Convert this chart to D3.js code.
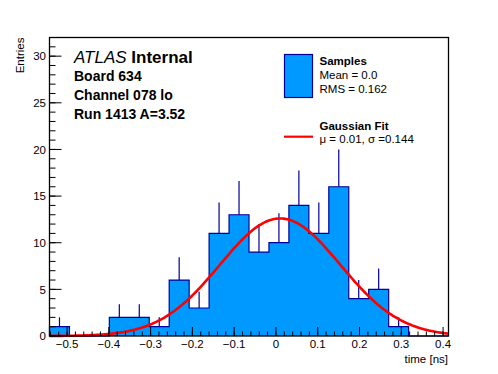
<!DOCTYPE html>
<html>
<head>
<meta charset="utf-8">
<script src="https://cdn.jsdelivr.net/npm/d3@7/dist/d3.min.js"></script>
<style>
  html, body { margin: 0; padding: 0; background: #fff; }
  svg { display: block; font-family: "Liberation Sans", Arial, Helvetica, sans-serif; }
</style>
</head>
<body>
<svg id="chart" width="498" height="374"></svg>
<script>
// ---- data ----
const xDomain = [-0.542, 0.413];          // histogram range (ns)
const counts = [1, 0, 0, 2, 2, 1, 6, 3, 11, 13, 9, 10, 14, 11, 16, 4, 5, 1, 0, 0];
const yDomain = [0, 32];
const xTickValues = [-0.5, -0.4, -0.3, -0.2, -0.1, 0, 0.1, 0.2, 0.3, 0.4];
const yTickValues = [0, 5, 10, 15, 20, 25, 30];
const fitAmplitude = 12.6;
const fitMean = 0.01;
const fitSigma = 0.144;
const atlasLines = ["Board 634", "Channel 078 lo", "Run 1413 A=3.52"];
const legendSamples = ["Samples", "Mean = 0.0", "RMS = 0.162"];
const legendFit = ["Gaussian Fit", "\u03BC = 0.01, \u03C3 =0.144"];

// ---- layout ----
const L = 49.5, R = 448.5, T = 37.5, B = 336;
const fillColor = "#0099ff", lineColor = "#000099", fitColor = "#ff0000";

const svg = d3.select("#chart");
svg.append("rect").attr("width", 498).attr("height", 374).attr("fill", "#fff");

const x = d3.scaleLinear().domain(xDomain).range([L, R]);
const y = d3.scaleLinear().domain(yDomain).range([B, T]);

const nb = counts.length;
const bw = (xDomain[1] - xDomain[0]) / nb;
const bins = counts.map((c, i) => ({ x0: xDomain[0] + i * bw, x1: xDomain[0] + (i + 1) * bw, c }));

// bars (fill) as one filled step area to avoid seams
let pts = [[x(bins[0].x0), y(0)]];
bins.forEach(d => { pts.push([x(d.x0), y(d.c)]); pts.push([x(d.x1), y(d.c)]); });
pts.push([x(bins[nb - 1].x1), y(0)]);
svg.append("path").attr("d", d3.line()(pts) + "Z").attr("fill", fillColor).attr("stroke", "none");

// step outline
svg.append("path").attr("d", d3.line()(pts)).attr("fill", "none")
  .attr("stroke", lineColor).attr("stroke-width", 1.2);

// error bars (upper part visible)
svg.append("g").selectAll("line").data(bins.filter(d => d.c > 0)).join("line")
  .attr("x1", d => x((d.x0 + d.x1) / 2)).attr("x2", d => x((d.x0 + d.x1) / 2))
  .attr("y1", d => y(d.c)).attr("y2", d => y(d.c + Math.sqrt(d.c)))
  .attr("stroke", lineColor).attr("stroke-width", 1.2);

// gaussian fit
const gx = d3.range(0, 301).map(i => xDomain[0] + (xDomain[1] - xDomain[0]) * i / 300);
const gauss = v => fitAmplitude * Math.exp(-0.5 * Math.pow((v - fitMean) / fitSigma, 2));
svg.append("path")
  .attr("d", d3.line().x(v => x(v)).y(v => y(gauss(v)))(gx))
  .attr("fill", "none").attr("stroke", fitColor).attr("stroke-width", 2.6);

// frame
svg.append("rect").attr("x", L).attr("y", T).attr("width", R - L).attr("height", B - T)
  .attr("fill", "none").attr("stroke", "#000").attr("stroke-width", 1.3);

// x ticks (inside)
const xMinor = d3.range(-27, 21).map(i => i * 0.02).filter(v => v >= xDomain[0] && v <= xDomain[1]);
svg.append("g").selectAll("line").data(xMinor).join("line")
  .attr("x1", d => x(d)).attr("x2", d => x(d)).attr("y1", B).attr("y2", B - 4.5)
  .attr("stroke", "#000").attr("stroke-width", 1);
svg.append("g").selectAll("line").data(xTickValues).join("line")
  .attr("x1", d => x(d)).attr("x2", d => x(d)).attr("y1", B).attr("y2", B - 9)
  .attr("stroke", "#000").attr("stroke-width", 1);
svg.append("g").selectAll("text").data(xTickValues).join("text")
  .attr("x", d => x(d)).attr("y", 348).attr("text-anchor", "middle")
  .attr("font-size", 11.5)
  .text(d => d === 0 ? "0" : (d < 0 ? "\u2212" : "") + Math.abs(d).toFixed(1));

// y ticks (inside)
const yMinor = d3.range(0, 33);
svg.append("g").selectAll("line").data(yMinor).join("line")
  .attr("x1", L).attr("x2", L + 6).attr("y1", d => y(d)).attr("y2", d => y(d))
  .attr("stroke", "#000").attr("stroke-width", 1);
svg.append("g").selectAll("line").data(yTickValues).join("line")
  .attr("x1", L).attr("x2", L + 12).attr("y1", d => y(d)).attr("y2", d => y(d))
  .attr("stroke", "#000").attr("stroke-width", 1);
svg.append("g").selectAll("text").data(yTickValues).join("text")
  .attr("x", 46).attr("y", d => y(d) + 4.2).attr("text-anchor", "end")
  .attr("font-size", 11.5).text(d => d);

// axis titles
svg.append("text").attr("x", 448).attr("y", 362.5).attr("text-anchor", "end")
  .attr("font-size", 11.5).text("time [ns]");
svg.append("text").attr("transform", "translate(23.5,37.5) rotate(-90)")
  .attr("text-anchor", "end").attr("font-size", 11.5).text("Entries");

// ATLAS label
const at = svg.append("text").attr("x", 74).attr("y", 62.7).attr("font-size", 17);
at.append("tspan").attr("font-style", "italic").text("ATLAS");
at.append("tspan").attr("font-weight", "bold").text(" Internal");
svg.append("g").selectAll("text").data(atlasLines).join("text")
  .attr("x", 74).attr("y", (d, i) => 80.7 + i * 19)
  .attr("font-size", 14).attr("font-weight", "bold").text(d => d);

// legend
svg.append("rect").attr("x", 284.5).attr("y", 54.5).attr("width", 28).attr("height", 43)
  .attr("fill", fillColor).attr("stroke", lineColor).attr("stroke-width", 1.2);
svg.append("g").selectAll("text").data(legendSamples).join("text")
  .attr("x", 319.5).attr("y", (d, i) => 65 + i * 14.2)
  .attr("font-size", 11.5).attr("font-weight", (d, i) => i === 0 ? "bold" : "normal").text(d => d);
svg.append("line").attr("x1", 284).attr("x2", 313).attr("y1", 136.7).attr("y2", 136.7)
  .attr("stroke", fitColor).attr("stroke-width", 2.2);
svg.append("g").selectAll("text").data(legendFit).join("text")
  .attr("x", 319.5).attr("y", (d, i) => 130 + i * 12.8)
  .attr("font-size", 11.5).attr("font-weight", (d, i) => i === 0 ? "bold" : "normal").text(d => d);
</script>
</body>
</html>
